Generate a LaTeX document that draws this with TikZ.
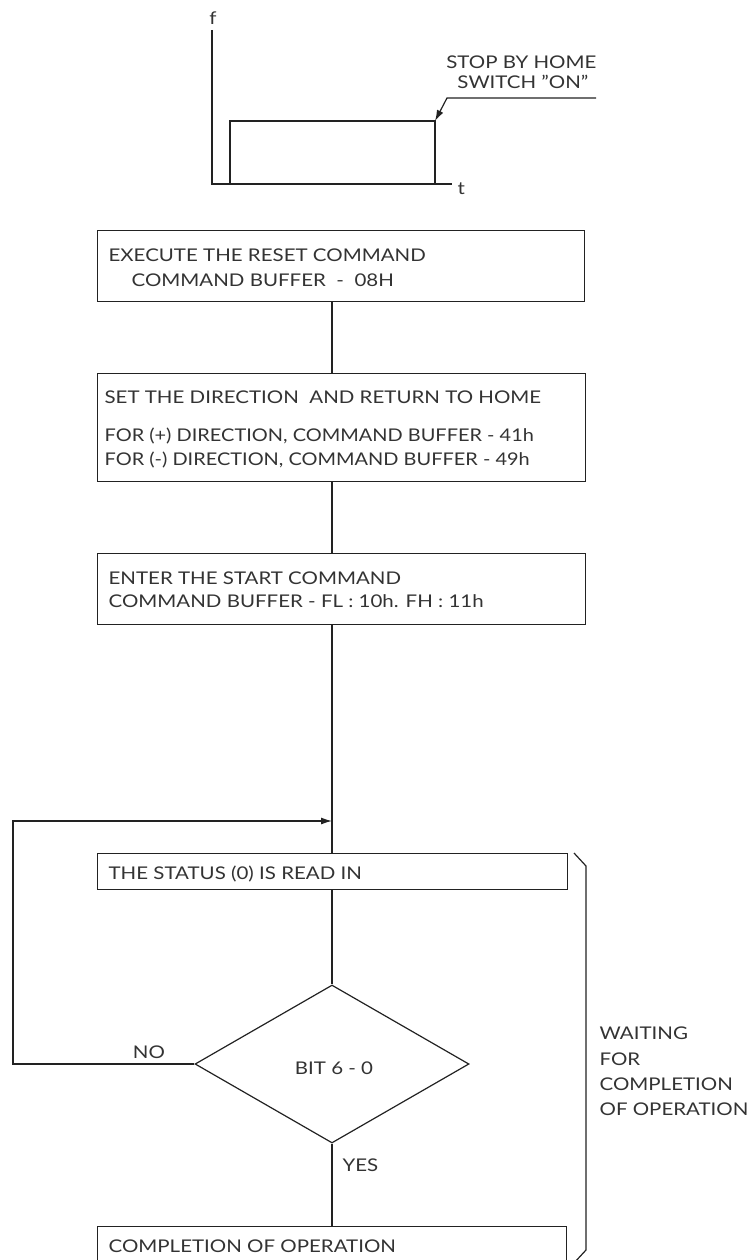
\documentclass[tikz,border=0pt]{standalone}
\usepackage{fontspec}
\setmainfont{Lato}[FakeStretch=1.17]
\newfontfamily\narrowfont{Lato}[FakeStretch=1.14]
\usetikzlibrary{arrows.meta,shapes.geometric}
\definecolor{ink}{HTML}{222222}
\definecolor{txt}{HTML}{333333}
\begin{document}
\begin{tikzpicture}[x=1pt,y=-1pt,line width=1.2pt,draw=ink,
  lbl/.style={inner sep=0pt,anchor=west,text=txt,font=\fontsize{17.5}{20}\selectfont,text height=12.5pt,text depth=0pt},
  box/.style={draw=ink,rectangle,inner sep=0pt,anchor=north west},
  arr/.style={-{Latex[length=11pt,width=7pt]}}]
\useasboundingbox (0,0) rectangle (754,1260);
% ---------- timing graph ----------
\coordinate (ftop) at (212,30);
\coordinate (orig) at (212,184);
\coordinate (tend) at (452,184);
\coordinate (rise) at (230,184);
\coordinate (ptop) at (230,121);
\coordinate (pend) at (435,121);
\coordinate (fall) at (435,184);
\coordinate (kink) at (447,98);
\coordinate (lend) at (596,98);
\node[lbl,anchor=center] (f) at (213,18) {f};
\node[lbl] (t) at (457,188) {t};
\draw (ftop) -- (orig) -- (tend);
\draw (rise) -- (ptop) -- (pend) -- (fall);
\draw[arr] (lend) -- (kink) -- (pend);
\node[lbl,anchor=east] (stop1) at (597,62) {STOP BY HOME};
\node[lbl,anchor=east] (stop2) at (589,82) {SWITCH "ON"};
% ---------- flow chart ----------
\coordinate (sp) at (332,0);
\node[box,minimum width=487pt,minimum height=71pt] (b1) at (97,230) {};
\node[lbl] (b1a) at (108,255) {EXECUTE THE RESET COMMAND};
\node[lbl] (b1b) at (131,280) {COMMAND BUFFER \ - \ 08H};
\node[box,minimum width=488pt,minimum height=108pt] (b2) at (97,373) {};
\node[lbl] (b2a) at (104,397) {SET THE DIRECTION \ AND RETURN TO HOME};
\node[lbl] (b2b) at (104,435) {\narrowfont FOR (+) DIRECTION, COMMAND BUFFER - 41h};
\node[lbl] (b2c) at (104,459) {\narrowfont FOR (-) DIRECTION, COMMAND BUFFER - 49h};
\node[box,minimum width=488pt,minimum height=71pt] (b3) at (97,553) {};
\node[lbl] (b3a) at (108,578) {ENTER THE START COMMAND};
\node[lbl] (b3b) at (108,601) {COMMAND BUFFER - FL : 10h. FH : 11h};
\node[box,minimum width=470pt,minimum height=36pt] (st) at (97,853) {};
\node[lbl] (sta) at (108,873) {THE STATUS (0) IS READ IN};
\node[draw=ink,diamond,inner sep=0pt,minimum width=274pt,minimum height=158pt] (dm) at (332,1064) {};
\node[lbl,anchor=center] (dma) at (334,1068) {BIT 6 - 0};
\node[box,minimum width=469pt,minimum height=64pt] (cp) at (97,1226) {};
\node[lbl] (cpa) at (108,1246) {COMPLETION OF OPERATION};
\node[lbl,anchor=center] (no) at (149,1052) {NO};
\node[lbl] (yes) at (342,1165) {YES};
\coordinate (join) at (332,821);
\coordinate (lp) at (13,821);
\draw (b1.south -| sp) -- (b2.north -| sp);
\draw (b2.south -| sp) -- (b3.north -| sp);
\draw (b3.south -| sp) -- (st.north -| sp);
\draw (st.south -| sp) -- (dm.north);
\draw (dm.south) -- (cp.north -| sp);
\draw[arr] (dm.west) -- (dm.west -| lp) -- (lp) -- (join);
% ---------- bracket ----------
\coordinate (br1) at (574,853);
\coordinate (br2) at (586,866);
\coordinate (br3) at (586,1250);
\coordinate (br4) at (574,1263);
\draw (br1) -- (br2) -- (br3) -- (br4);
\node[lbl] (w1) at (599,1033) {WAITING};
\node[lbl] (w2) at (599,1059) {FOR};
\node[lbl] (w3) at (599,1084) {COMPLETION};
\node[lbl] (w4) at (599,1109) {OF OPERATION};
\end{tikzpicture}
\end{document}
